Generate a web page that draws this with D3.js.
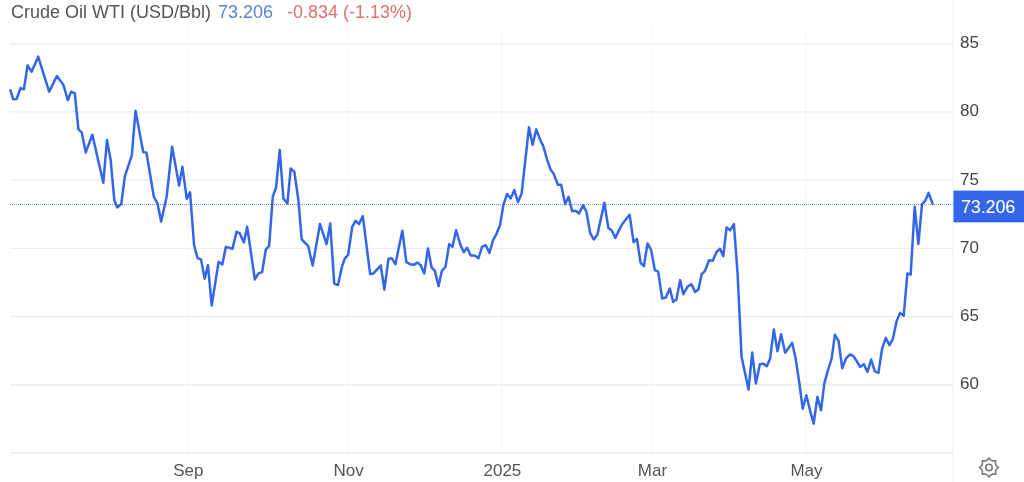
<!DOCTYPE html>
<html>
<head>
<meta charset="utf-8">
<title>Crude Oil WTI</title>
<script src="https://cdn.jsdelivr.net/npm/d3@7"></script>
<style>
	html, body { margin: 0; padding: 0; background: #fff; overflow: hidden; }
	svg { display: block; font-family: "Liberation Sans", Arial, sans-serif; filter: blur(0.45px); }
	.axis path, .axis line { display: none; }
</style>
</head>
<body>
<svg id="chart" width="1024" height="482"></svg>
<script>
'use strict';

// trading session number of each visible turn of the line
const sessions = [
	0, .9, 1.8, 2.9, 3.8, 4.8, 5.9, 7.7, 10.7, 12.8, 14.6, 15.8, 16.7, 17.7, 18.7, 19.6, 20.7, 22.5, 25.5, 26.5,
	27.5, 28.5, 29.3, 30.4, 31.4, 33.3, 34.3, 36.4, 37.3, 39.3, 40.3, 41.3, 42.8, 44.3, 46.2, 47.1, 48.3, 49.2, 50.3, 51.2,
	52.2, 53.2, 54.1, 55.1, 57, 58, 59, 60.8, 61.9, 62.8, 63.9, 64.8, 66.9, 67.9, 68.9, 69.9, 70.8, 71.8, 72.7, 73.7,
	74.7, 75.8, 76.7, 77.7, 78.8, 79.7, 81.5, 82.7, 84.7, 86.5, 87.5, 88.6, 89.6, 90.7, 91.5, 92.4, 93.5, 94.4, 95.4, 96.4,
	98.4, 99.3, 101.3, 102.3, 103.4, 104.3, 105.3, 107.2, 108.3, 109.3, 110.4, 111.3, 112.2, 113.2, 114.2, 115.2, 116.1, 117.1, 118, 119,
	120, 120.9, 121.9, 123, 124, 124.9, 125.9, 127, 128, 129, 130, 131, 132, 132.9, 133.9, 134.8, 135.8, 136.8, 137.8, 138.8,
	139.8, 141.8, 142.8, 143.8, 144.8, 145.7, 146.8, 147.7, 148.6, 149.7, 150.6, 151.7, 152.6, 153.6, 154.6, 155.5, 156.6, 157.5, 158.5, 159.5,
	160.5, 162.4, 163.5, 164.4, 165.4, 166.4, 167.4, 169.3, 170.4, 171.3, 172.3, 173.2, 174.2, 175.2, 176.2, 177.1, 178.2, 179.2, 180.3, 181.2,
	182.1, 183.1, 184, 185.1, 186.2, 187.2, 188.1, 189, 189.9, 191, 192, 193.1, 194, 194.9, 195.8, 196.8, 197.8, 198.8, 199.9, 201.8,
	202.8, 203.8, 204.9, 205.8, 206.8, 207.7, 208.7, 209.7, 210.7, 211.8, 213.7, 214.6, 215.7, 216.6, 217.6, 218.6, 219.6, 220.6, 221.6, 222.5,
	223.5, 224.5, 225.4, 226.4, 227.4, 228.4, 229.5, 230.4, 231.3, 232.3, 233.3, 234.3, 235.3, 236.3, 237.3, 238.3, 239.3, 240.3, 241.2, 242.2,
	243.2, 244.2, 245.2, 246.1, 247.2, 248.2, 249.2, 250.1, 251, 252.2
];

const prices = [
	81.65, 80.92, 80.95, 81.75, 81.65, 83.41, 82.95, 84.05, 81.48, 82.63, 81.97, 80.87, 81.48, 81.36, 78.72, 78.5, 77.03, 78.33, 74.81, 77.94,
	76.47, 73.54, 73, 73.24, 75.3, 76.84, 80.09, 77.06, 77.01, 73.78, 73.29, 71.97, 73.78, 77.45, 74.61, 75.98, 73.63, 74.1, 70.23, 69.31,
	69.18, 67.77, 68.77, 65.81, 69.01, 68.82, 70.11, 69.97, 71.21, 71.09, 70.43, 71.58, 67.72, 68.16, 68.26, 69.92, 70.16, 73.78, 74.47, 77.2,
	73.66, 73.29, 75.86, 75.61, 73.54, 70.65, 70.16, 68.74, 71.78, 70.31, 71.82, 67.42, 67.3, 68.65, 69.26, 69.53, 71.58, 72.02, 71.78, 72.36,
	68.11, 68.16, 68.74, 66.98, 69.23, 69.28, 68.84, 71.29, 68.99, 68.84, 68.79, 68.96, 68.77, 68.16, 69.99, 68.6, 68.35, 67.23, 68.35, 68.65,
	70.31, 70.11, 71.33, 70.31, 69.72, 70.04, 69.48, 69.48, 69.28, 70.11, 70.23, 69.67, 70.6, 71.04, 71.7, 73.17, 73.98, 73.66, 74.27, 73.39,
	74.02, 78.87, 77.59, 78.72, 77.99, 77.5, 76.47, 75.78, 75.44, 74.66, 74.66, 73.24, 73.78, 72.73, 72.75, 72.56, 73.17, 72.68, 71.14, 70.65,
	70.99, 73.34, 71.48, 71.33, 70.77, 71.33, 71.82, 72.46, 70.45, 70.7, 68.94, 68.69, 70.36, 69.87, 68.4, 68.3, 66.32, 66.4, 67.06, 66.08,
	66.25, 67.67, 66.64, 67.18, 67.37, 66.81, 66.98, 68.11, 68.35, 69.13, 69.09, 69.75, 69.97, 69.43, 71.53, 71.33, 71.78, 68.16, 62.04, 59.65,
	62.36, 60.09, 61.51, 61.55, 61.36, 61.92, 64.05, 62.46, 63.71, 62.34, 63.07, 62.04, 60.09, 58.25, 59.23, 58.13, 57.15, 59.11, 58.13, 60.09,
	61.07, 61.92, 63.66, 63.22, 61.21, 61.92, 62.22, 62.12, 61.75, 61.31, 61.51, 60.94, 61.85, 60.99, 60.87, 62.66, 63.44, 62.9, 63.32, 64.61,
	65.27, 65.05, 68.16, 68.08, 73.05, 70.31, 73.24, 73.49, 74.07, 73.206
];

const monthLabels = ["Sep", "Nov", "2025", "Mar", "May"];
const monthSessions = [48.6, 92.4, 134.4, 175.4, 217.5];
const priceTicks = [60, 65, 70, 75, 80, 85];

const title = "Crude Oil WTI (USD/Bbl)";
const lastPrice = 73.206;
const change = "-0.834 (-1.13%)";

const blue = "#3366e8";

let svg = d3.select("#chart");
let margin = { top: 28, right: 71, bottom: 29, left: 10 };
let width = +svg.attr("width") - margin.left - margin.right;
let height = +svg.attr("height") - margin.top - margin.bottom;
let g = svg.append("g").attr("transform", "translate(" + margin.left + "," + margin.top + ")");

let x = d3.scaleLinear().domain([0, 252.2 * 943 / 923]).range([0, width]);
let y = d3.scaleLinear().domain([55, 86.15]).range([height, 0]);

// grid, light first
g.selectAll(".vgrid").data(monthSessions).enter().append("line")
	.attr("x1", d => x(d)).attr("x2", d => x(d))
	.attr("y1", 0).attr("y2", height)
	.attr("stroke", "#f2f3f5").attr("stroke-width", 1);

g.selectAll(".hgrid").data(priceTicks.concat([55])).enter().append("line")
	.attr("x1", 0).attr("x2", width)
	.attr("y1", d => y(d)).attr("y2", d => y(d))
	.attr("stroke", "#ecedef").attr("stroke-width", 1.4);

// right edge of the plot
svg.append("line")
	.attr("x1", margin.left + width).attr("x2", margin.left + width)
	.attr("y1", 0).attr("y2", 482)
	.attr("stroke", "#eceef0").attr("stroke-width", 1);

// last price marker
g.append("line")
	.attr("x1", 0).attr("x2", width)
	.attr("y1", y(lastPrice)).attr("y2", y(lastPrice))
	.attr("stroke", "#5f86d8").attr("stroke-width", 1)
	.attr("stroke-dasharray", "1,1");

let line = d3.line()
	.x(function (d, i) { return x(sessions[i]); })
	.y(function (d) { return y(d); });

g.append("path")
	.datum(prices)
	.attr("fill", "none")
	.attr("stroke", blue)
	.attr("stroke-width", 2.5)
	.attr("stroke-linejoin", "round")
	.attr("d", line);

// axes
let yAxis = g.append("g").attr("class", "axis")
	.attr("transform", "translate(" + (width + 7) + ",-1.5)")
	.call(d3.axisRight(y).tickValues(priceTicks).tickSize(0).tickPadding(0));
yAxis.selectAll("text")
	.attr("font-size", 17).attr("fill", "#444").attr("font-family", "inherit");

let xAxis = g.append("g").attr("class", "axis")
	.attr("transform", "translate(0," + height + ")")
	.call(d3.axisBottom(x).tickValues(monthSessions)
		.tickFormat(function (d, i) { return monthLabels[i]; })
		.tickSize(0).tickPadding(10.5));
xAxis.selectAll("text")
	.attr("font-size", 17).attr("fill", "#555").attr("font-family", "inherit");

// price tag on the axis
let tag = g.append("g").attr("transform", "translate(" + width + "," + y(lastPrice) + ")");
tag.append("rect")
	.attr("x", 0).attr("y", -14).attr("width", margin.right).attr("height", 32)
	.attr("fill", blue);
tag.append("text")
	.attr("x", 8).attr("y", 8)
	.attr("font-size", 17.7).attr("fill", "#fff")
	.text(lastPrice.toFixed(3));

// header
let head = svg.append("text").attr("y", 18).attr("font-size", 18);
head.append("tspan").attr("x", 11).attr("fill", "#555").text(title);
head.append("tspan").attr("x", 218).attr("fill", "#5b80d8").text(lastPrice.toFixed(3));
head.append("tspan").attr("x", 287).attr("fill", "#e26d6d").text(change);

// settings gear
let gear = svg.append("g")
	.attr("transform", "translate(989,467.5)")
	.attr("fill", "none").attr("stroke", "#777").attr("stroke-width", 1.6);
let teeth = d3.range(24).map(function (i) {
	let a = i / 24 * 2 * Math.PI - Math.PI / 12;
	let r = (i % 3 === 1) ? 9.4 : 7.6;
	return [a, r];
});
gear.append("path").attr("d", d3.lineRadial().curve(d3.curveLinearClosed)(teeth));
gear.append("circle").attr("r", 3.2);
</script>
</body>
</html>
